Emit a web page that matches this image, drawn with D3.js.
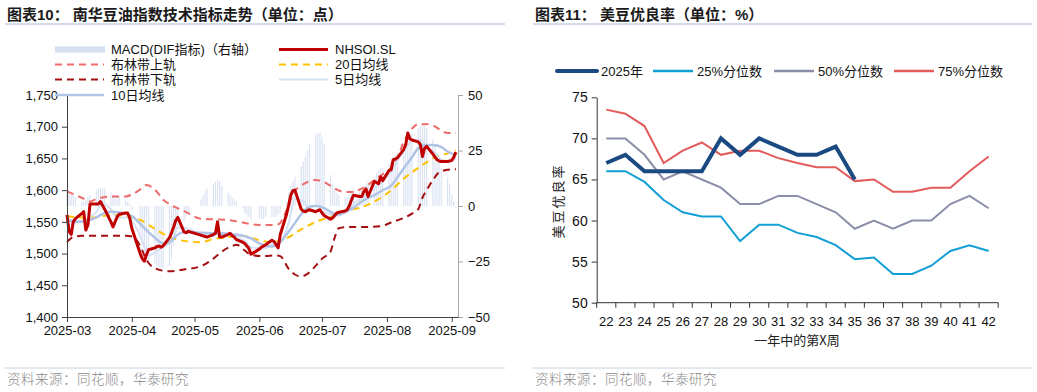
<!DOCTYPE html>
<html><head><meta charset="utf-8">
<script src="https://cdn.jsdelivr.net/npm/d3@7"></script>
<style>
body{margin:0;background:#fff;}
svg{display:block;font-family:"Liberation Sans","Noto Sans CJK SC",sans-serif;}
</style></head><body>
<svg id="c" width="1037" height="392"></svg>
<script>
// ---------- Left chart data ----------
const tradeDates = ["2025-03-03","2025-03-04","2025-03-05","2025-03-06","2025-03-07","2025-03-10","2025-03-11","2025-03-12","2025-03-13","2025-03-14",
"2025-03-17","2025-03-18","2025-03-19","2025-03-20","2025-03-21","2025-03-24","2025-03-25","2025-03-26","2025-03-27","2025-03-28",
"2025-03-31","2025-04-01","2025-04-02","2025-04-03","2025-04-07","2025-04-08","2025-04-09","2025-04-10","2025-04-11","2025-04-14",
"2025-04-15","2025-04-16","2025-04-17","2025-04-18","2025-04-21","2025-04-22","2025-04-23","2025-04-24","2025-04-25","2025-04-28",
"2025-04-29","2025-04-30","2025-05-06","2025-05-07","2025-05-08","2025-05-09","2025-05-12","2025-05-13","2025-05-14","2025-05-15",
"2025-05-16","2025-05-19","2025-05-20","2025-05-21","2025-05-22","2025-05-23","2025-05-26","2025-05-27","2025-05-28","2025-05-29",
"2025-05-30","2025-06-03","2025-06-04","2025-06-05","2025-06-06","2025-06-09","2025-06-10","2025-06-11","2025-06-12","2025-06-13",
"2025-06-16","2025-06-17","2025-06-18","2025-06-19","2025-06-20","2025-06-23","2025-06-24","2025-06-25","2025-06-26","2025-06-27",
"2025-06-30","2025-07-01","2025-07-02","2025-07-03","2025-07-04","2025-07-07","2025-07-08","2025-07-09","2025-07-10","2025-07-11",
"2025-07-14","2025-07-15","2025-07-16","2025-07-17","2025-07-18","2025-07-21","2025-07-22","2025-07-23","2025-07-24","2025-07-25",
"2025-07-28","2025-07-29","2025-07-30","2025-07-31","2025-08-01","2025-08-04","2025-08-05","2025-08-06","2025-08-07","2025-08-08",
"2025-08-11","2025-08-12","2025-08-13","2025-08-14","2025-08-15","2025-08-18","2025-08-19","2025-08-20","2025-08-21","2025-08-22",
"2025-08-25","2025-08-26","2025-08-27","2025-08-28","2025-08-29","2025-09-01","2025-09-02","2025-09-03","2025-09-04","2025-09-05"];

const closeValues = [1561,1535,1530,1550,1555,1563,1566,1537,1545,1578,
1578,1578,1582,1576,1570,1550,1542,1550,1558,1562,
1564,1564,1556,1540,1500,1492,1488,1498,1506,1509,
1511,1512,1510,1512,1525,1533,1542,1552,1557,1534,
1533,1535,1529,1528,1527,1526,1530,1532,1550,1526,
1526,1530,1532,1528,1526,1522,1518,1516,1512,1508,
1499,1507,1510,1512,1514,1521,1519,1514,1509,1530,
1562,1576,1592,1599,1600,1570,1567,1566,1568,1569,
1566,1568,1569,1564,1560,1554,1556,1560,1564,1565,
1567,1569,1575,1584,1592,1590,1590,1598,1602,1590,
1614,1612,1610,1621,1615,1631,1632,1648,1649,1651,
1664,1672,1690,1681,1679,1676,1672,1653,1666,1669,
1657,1652,1648,1646,1645,1645,1646,1647,1652,1660];

const macdValues = [6,6,5,5,4,2,2,3,4,5,
7,8,8,8,8,6,5,4,4,4,
3,2,1,-2,-14,-18,-21,-23,-25,-26,
-27,-28,-28,-28,-27,-24,-18,-12,-9,-7,
-5,-3,3,5,7,8,10,11,12,11,
9,6,5,4,3,2,-1,-3,-4,-5,
-6,-6,-6,-6,-5,-5,-5,-5,-4,-3,
2,6,9,11,13,18,20,22,25,28,
32,33,33,31,28,14,10,8,6,5,
4,4,5,6,7,8,8,9,10,11,
13,15,16,17,17,19,20,22,23,24,
27,29,31,32,33,35,36,36,36,35,
30,27,24,20,17,13,10,5,2,-1];

const bollUpper = [["2025-03-03",1598],["2025-03-10",1588],["2025-03-14",1582],["2025-03-17",1586],["2025-03-24",1590],["2025-03-31",1590],
["2025-04-03",1593],["2025-04-07",1601],["2025-04-10",1608],["2025-04-14",1601],["2025-04-18",1585],["2025-04-21",1578],["2025-04-28",1567],
["2025-05-06",1555],["2025-05-12",1554],["2025-05-19",1553],["2025-05-26",1549],["2025-06-03",1545],["2025-06-09",1545],["2025-06-12",1546],
["2025-06-16",1568],["2025-06-19",1594],["2025-06-23",1607],["2025-06-27",1614],["2025-06-30",1616],["2025-07-03",1614],["2025-07-07",1607],
["2025-07-10",1601],["2025-07-14",1597],["2025-07-18",1597],["2025-07-21",1601],["2025-07-24",1606],["2025-07-28",1616],["2025-08-01",1625],
["2025-08-04",1632],["2025-08-08",1650],["2025-08-11",1676],["2025-08-13",1688],["2025-08-15",1697],["2025-08-18",1704],["2025-08-22",1704],
["2025-08-25",1702],["2025-08-29",1694],["2025-09-01",1690],["2025-09-05",1690]];

const bollLower = [["2025-03-03",1518],["2025-03-06",1526],["2025-03-10",1528],["2025-03-17",1528],["2025-03-24",1528],["2025-03-31",1528],
["2025-04-03",1527],["2025-04-07",1512],["2025-04-10",1490],["2025-04-14",1477],["2025-04-21",1472],["2025-04-28",1475],["2025-05-06",1480],
["2025-05-12",1492],["2025-05-16",1503],["2025-05-21",1512],["2025-05-23",1514],["2025-05-27",1505],["2025-05-30",1498],["2025-06-05",1496],
["2025-06-11",1497],["2025-06-13",1496],["2025-06-17",1476],["2025-06-20",1467],["2025-06-23",1464],["2025-06-26",1468],["2025-06-30",1481],
["2025-07-03",1492],["2025-07-07",1503],["2025-07-09",1525],["2025-07-11",1540],["2025-07-17",1542],["2025-07-25",1542],["2025-07-31",1543],
["2025-08-05",1549],["2025-08-11",1556],["2025-08-15",1563],["2025-08-18",1570],["2025-08-20",1588],["2025-08-22",1600],["2025-08-25",1616],
["2025-08-28",1628],["2025-09-01",1632],["2025-09-05",1633]];

const ma20 = [["2025-03-03",1559],["2025-03-10",1557],["2025-03-17",1557],["2025-03-24",1561],["2025-03-31",1559],["2025-04-07",1553],
["2025-04-14",1539],["2025-04-21",1526],["2025-04-28",1520],["2025-05-06",1518],["2025-05-12",1523],["2025-05-19",1526],["2025-05-26",1528],
["2025-06-03",1521],["2025-06-09",1518],["2025-06-16",1524],["2025-06-23",1538],["2025-06-30",1550],["2025-07-07",1558],["2025-07-14",1568],
["2025-07-21",1572],["2025-07-28",1582],["2025-08-04",1597],["2025-08-11",1618],["2025-08-18",1635],["2025-08-25",1650],["2025-09-01",1658],
["2025-09-05",1663]];

const ma10 = [["2025-03-03",1553],["2025-03-10",1550],["2025-03-17",1557],["2025-03-21",1564],["2025-03-24",1566],["2025-03-31",1563],
["2025-04-03",1559],["2025-04-07",1547],["2025-04-10",1537],["2025-04-14",1525],["2025-04-18",1516],["2025-04-21",1518],["2025-04-25",1530],
["2025-04-28",1534],["2025-05-06",1533],["2025-05-12",1532],["2025-05-19",1531],["2025-05-26",1528],["2025-05-30",1524],["2025-06-03",1516],
["2025-06-09",1511],["2025-06-13",1518],["2025-06-16",1530],["2025-06-20",1548],["2025-06-23",1562],["2025-06-27",1574],["2025-06-30",1575],
["2025-07-03",1573],["2025-07-07",1566],["2025-07-10",1561],["2025-07-14",1566],["2025-07-18",1572],["2025-07-21",1580],["2025-07-25",1588],
["2025-07-28",1592],["2025-08-01",1600],["2025-08-05",1607],["2025-08-08",1620],["2025-08-11",1634],["2025-08-15",1652],["2025-08-18",1666],
["2025-08-22",1671],["2025-08-25",1671],["2025-08-29",1668],["2025-09-01",1661],["2025-09-05",1655]];

const ma5 = [["2025-03-03",1555],["2025-03-06",1548],["2025-03-10",1552],["2025-03-13",1556],["2025-03-17",1565],["2025-03-20",1578],
["2025-03-24",1570],["2025-03-27",1556],["2025-03-31",1557],["2025-04-03",1552],["2025-04-08",1520],["2025-04-11",1497],["2025-04-15",1504],
["2025-04-18",1511],["2025-04-22",1518],["2025-04-25",1541],["2025-04-29",1540],["2025-05-07",1530],["2025-05-12",1528],["2025-05-15",1533],
["2025-05-19",1532],["2025-05-22",1527],["2025-05-27",1520],["2025-05-30",1510],["2025-06-05",1508],["2025-06-10",1516],["2025-06-13",1518],
["2025-06-17",1548],["2025-06-20",1586],["2025-06-24",1583],["2025-06-27",1568],["2025-07-02",1567],["2025-07-07",1562],["2025-07-10",1560],
["2025-07-15",1566],["2025-07-18",1578],["2025-07-22",1588],["2025-07-25",1594],["2025-07-29",1606],["2025-08-01",1614],["2025-08-05",1630],
["2025-08-08",1646],["2025-08-12",1666],["2025-08-15",1677],["2025-08-19",1679],["2025-08-22",1668],["2025-08-26",1659],["2025-08-29",1648],
["2025-09-02",1646],["2025-09-05",1650]];

const leftTicks = [1400,1450,1500,1550,1600,1650,1700,1750];
const rightTicks = [-50,-25,0,25,50];
const monthTicks = ["2025-03-03","2025-04-03","2025-05-03","2025-06-03","2025-07-03","2025-08-03","2025-09-03"];

// ---------- Right chart data ----------
const weeks = ["22","23","24","25","26","27","28","29","30","31","32","33","34","35","36","37","38","39","40","41","42"];
const y2025 = [67,68,66,66,66,66,70,68,70,69,68,68,69,65];
const p25 = [66,66,64.7,62.5,61,60.5,60.5,57.5,59.5,59.5,58.5,58,57,55.3,55.5,53.5,53.5,54.5,56.3,57,56.3];
const p50 = [70,70,68,65,66,65,64,62,62,63,63,62,61,59,60,59,60,60,62,63,61.5];
const p75 = [73.5,73,71.5,67,68.5,69.5,68,68.5,68.5,67.6,67,66.5,66.5,64.8,65,63.5,63.5,64,64,66,67.8];
const rightYTicks = [50,55,60,65,70,75];

// ---------- Drawing ----------
const svg = d3.select("#c");
const parse = d3.utcParse("%Y-%m-%d");
const fontCJK = '"Noto Sans CJK SC","Liberation Sans",sans-serif';

function header(x0, x1, title){
  svg.append("text").attr("x", x0+2).attr("y", 19.5).attr("font-size", 15).attr("font-weight", "bold")
    .attr("fill", "#1a1a1a").attr("font-family", '"Liberation Sans","Noto Sans CJK SC",sans-serif').text(title);
  svg.append("line").attr("x1", x0).attr("x2", x1).attr("y1", 24).attr("y2", 24).attr("stroke", "#c3d2e2").attr("stroke-width", 1.5);
  svg.append("line").attr("x1", x0).attr("x2", x1).attr("y1", 368).attr("y2", 368).attr("stroke", "#c3d2e2").attr("stroke-width", 1.2);
  svg.append("text").attr("x", x0+2).attr("y", 384).attr("font-size", 13.5).attr("fill", "#8a8a8a")
    .attr("font-family", fontCJK).attr("font-weight", 300).attr("letter-spacing", 0.5).text("资料来源：同花顺，华泰研究");
}
header(5, 505, "图表10：  南华豆油指数技术指标走势（单位：点）");
header(533, 1032, "图表11：  美豆优良率（单位：%）");

// ---- left chart ----
const xL = d3.scaleUtc().domain([parse("2025-03-03"), parse("2025-09-06")]).range([67, 458]);
const yL = d3.scaleLinear().domain([1400, 1750]).range([317, 95]);
const yR = d3.scaleLinear().domain([-50, 50]).range([317, 95]);

const bars = tradeDates.map((d, i) => ({date: parse(d), v: macdValues[i]}));
const close = tradeDates.map((d, i) => ({date: parse(d), v: closeValues[i]}));
const toPts = arr => arr.map(p => ({date: parse(p[0]), v: p[1]}));

const gL = svg.append("g");
gL.selectAll("rect.macd").data(bars).join("rect").attr("class", "macd")
  .attr("x", d => xL(d.date) - 0.6).attr("width", 1.2)
  .attr("y", d => Math.min(yR(0), yR(d.v))).attr("height", d => Math.abs(yR(d.v) - yR(0)))
  .attr("fill", "#dbe3f3");

const lineL = d3.line().x(d => xL(d.date)).y(d => yL(d.v));
const smooth = d3.line().x(d => xL(d.date)).y(d => yL(d.v)).curve(d3.curveMonotoneX);

gL.append("path").datum(toPts(bollUpper)).attr("d", smooth).attr("fill", "none")
  .attr("stroke", "#ee6b6b").attr("stroke-width", 2).attr("stroke-dasharray", "7,5");
gL.append("path").datum(toPts(bollLower)).attr("d", smooth).attr("fill", "none")
  .attr("stroke", "#a50f0f").attr("stroke-width", 2).attr("stroke-dasharray", "7,5");
gL.append("path").datum(toPts(ma20)).attr("d", smooth).attr("fill", "none")
  .attr("stroke", "#ffc000").attr("stroke-width", 2).attr("stroke-dasharray", "7,5");
gL.append("path").datum(toPts(ma5)).attr("d", smooth).attr("fill", "none")
  .attr("stroke", "#d6e1f3").attr("stroke-width", 2);
gL.append("path").datum(toPts(ma10)).attr("d", smooth).attr("fill", "none")
  .attr("stroke", "#b0c4e6").attr("stroke-width", 2.5);
gL.append("path").datum(close).attr("d", lineL).attr("fill", "none")
  .attr("stroke", "#c00000").attr("stroke-width", 3).attr("stroke-linejoin", "round");

const axL = svg.append("g").attr("transform", "translate(67,0)")
  .call(d3.axisLeft(yL).tickValues(leftTicks).tickFormat(d3.format(",")).tickSize(5).tickSizeOuter(0).tickPadding(4));
const axR = svg.append("g").attr("transform", "translate(458,0)")
  .call(d3.axisRight(yR).tickValues(rightTicks).tickSize(5).tickSizeOuter(0).tickPadding(5));
const axB = svg.append("g").attr("transform", "translate(0,317)")
  .call(d3.axisBottom(xL).tickValues(monthTicks.map(parse)).tickFormat(d3.utcFormat("%Y-%m")).tickSize(5).tickSizeOuter(0).tickPadding(4));
[axL, axB].forEach(a => { a.selectAll("path,line").attr("stroke", "#404040"); });
axR.selectAll("path,line").attr("stroke", "#a6a6a6");
[axL, axR, axB].forEach(a => a.selectAll("text").attr("font-size", 13).attr("fill", "#111")
  .attr("font-family", '"Liberation Sans",sans-serif'));

const legL = svg.append("g").attr("font-size", 13).attr("fill", "#111");
const legItems = [
  {x: 55, y: 49.5, type: "rect", color: "#d6dff1", label: "MACD(DIF指标)（右轴）"},
  {x: 279, y: 49.5, type: "line", color: "#c00000", w: 3, label: "NHSOI.SL"},
  {x: 55, y: 64.5, type: "line", color: "#ee6b6b", w: 2, dash: "7,5", label: "布林带上轨"},
  {x: 279, y: 64.5, type: "line", color: "#ffc000", w: 2, dash: "7,5", label: "20日均线"},
  {x: 55, y: 79.5, type: "line", color: "#a50f0f", w: 2, dash: "7,5", label: "布林带下轨"},
  {x: 279, y: 79.5, type: "line", color: "#d6e1f3", w: 2, label: "5日均线"},
  {x: 55, y: 95, type: "line", color: "#b0c4e6", w: 2.5, label: "10日均线"}
];
legItems.forEach(it => {
  if (it.type === "rect") {
    legL.append("rect").attr("x", it.x).attr("y", it.y - 3).attr("width", 50).attr("height", 6).attr("fill", it.color);
  } else {
    legL.append("line").attr("x1", it.x).attr("x2", it.x + 49).attr("y1", it.y).attr("y2", it.y)
      .attr("stroke", it.color).attr("stroke-width", it.w).attr("stroke-dasharray", it.dash || null);
  }
  legL.append("text").attr("x", it.x + 56).attr("y", it.y + 4.5).text(it.label);
});

// ---- right chart ----
const xW = d3.scaleBand().domain(weeks).range([596.7, 998.2]).padding(0);
const yW = d3.scaleLinear().domain([50, 75]).range([302.7, 97.3]);
const cx = w => xW(w) + xW.bandwidth() / 2;

const gR = svg.append("g");
const lineW = d3.line().x(d => cx(d.w)).y(d => yW(d.v));
const mk = arr => arr.map((v, i) => ({w: weeks[i], v}));
gR.append("path").datum(mk(p75)).attr("d", lineW).attr("fill", "none").attr("stroke", "#e35b5b").attr("stroke-width", 2);
gR.append("path").datum(mk(p50)).attr("d", lineW).attr("fill", "none").attr("stroke", "#8a8ea8").attr("stroke-width", 2);
gR.append("path").datum(mk(p25)).attr("d", lineW).attr("fill", "none").attr("stroke", "#129fd6").attr("stroke-width", 2);
gR.append("path").datum(mk(y2025)).attr("d", lineW).attr("fill", "none").attr("stroke", "#1b4a82").attr("stroke-width", 4).attr("stroke-linejoin", "miter");

const axW = svg.append("g").attr("transform", "translate(596.7,0)")
  .call(d3.axisLeft(yW).tickValues(rightYTicks).tickSize(5).tickSizeOuter(0).tickPadding(4));
axW.selectAll("path,line").attr("stroke", "#333");
axW.selectAll("text").attr("font-size", 14).attr("fill", "#111").attr("font-family", '"Liberation Sans",sans-serif');

const gX = svg.append("g");
gX.append("line").attr("x1", xW.range()[0]).attr("x2", xW.range()[1]).attr("y1", 302.7).attr("y2", 302.7).attr("stroke", "#333");
gX.selectAll("line.tk").data(weeks.concat(["end"])).join("line").attr("class", "tk")
  .attr("x1", d => d === "end" ? xW.range()[1] : xW(d)).attr("x2", d => d === "end" ? xW.range()[1] : xW(d))
  .attr("y1", 302.7).attr("y2", 307.7).attr("stroke", "#333");
gX.selectAll("text").data(weeks).join("text").attr("x", d => cx(d)).attr("y", 325.5)
  .attr("text-anchor", "middle").attr("font-size", 13).attr("fill", "#111").text(d => d);

svg.append("text").attr("x", 797).attr("y", 345).attr("text-anchor", "middle").attr("font-size", 13)
  .attr("fill", "#222").attr("font-family", fontCJK).text("一年中的第X周");
svg.append("text").attr("transform", "translate(563,201) rotate(-90)").attr("text-anchor", "middle")
  .attr("font-size", 13).attr("fill", "#222").attr("font-family", fontCJK).attr("letter-spacing", 2).text("美豆优良率");

const legR = [
  {x: 557, color: "#1b4a82", w: 4, label: "2025年"},
  {x: 653, color: "#129fd6", w: 2.5, label: "25%分位数"},
  {x: 774, color: "#8a8ea8", w: 2.5, label: "50%分位数"},
  {x: 894, color: "#e35b5b", w: 2.5, label: "75%分位数"}
];
const gLR = svg.append("g").attr("font-size", 13).attr("fill", "#111");
legR.forEach(it => {
  gLR.append("line").attr("x1", it.x).attr("x2", it.x + 40).attr("y1", 71).attr("y2", 71)
    .attr("stroke", it.color).attr("stroke-width", it.w).attr("stroke-linecap", it.w > 3 ? "round" : "butt");
  gLR.append("text").attr("x", it.x + 44).attr("y", 75.5).text(it.label);
});
</script>
</body></html>
